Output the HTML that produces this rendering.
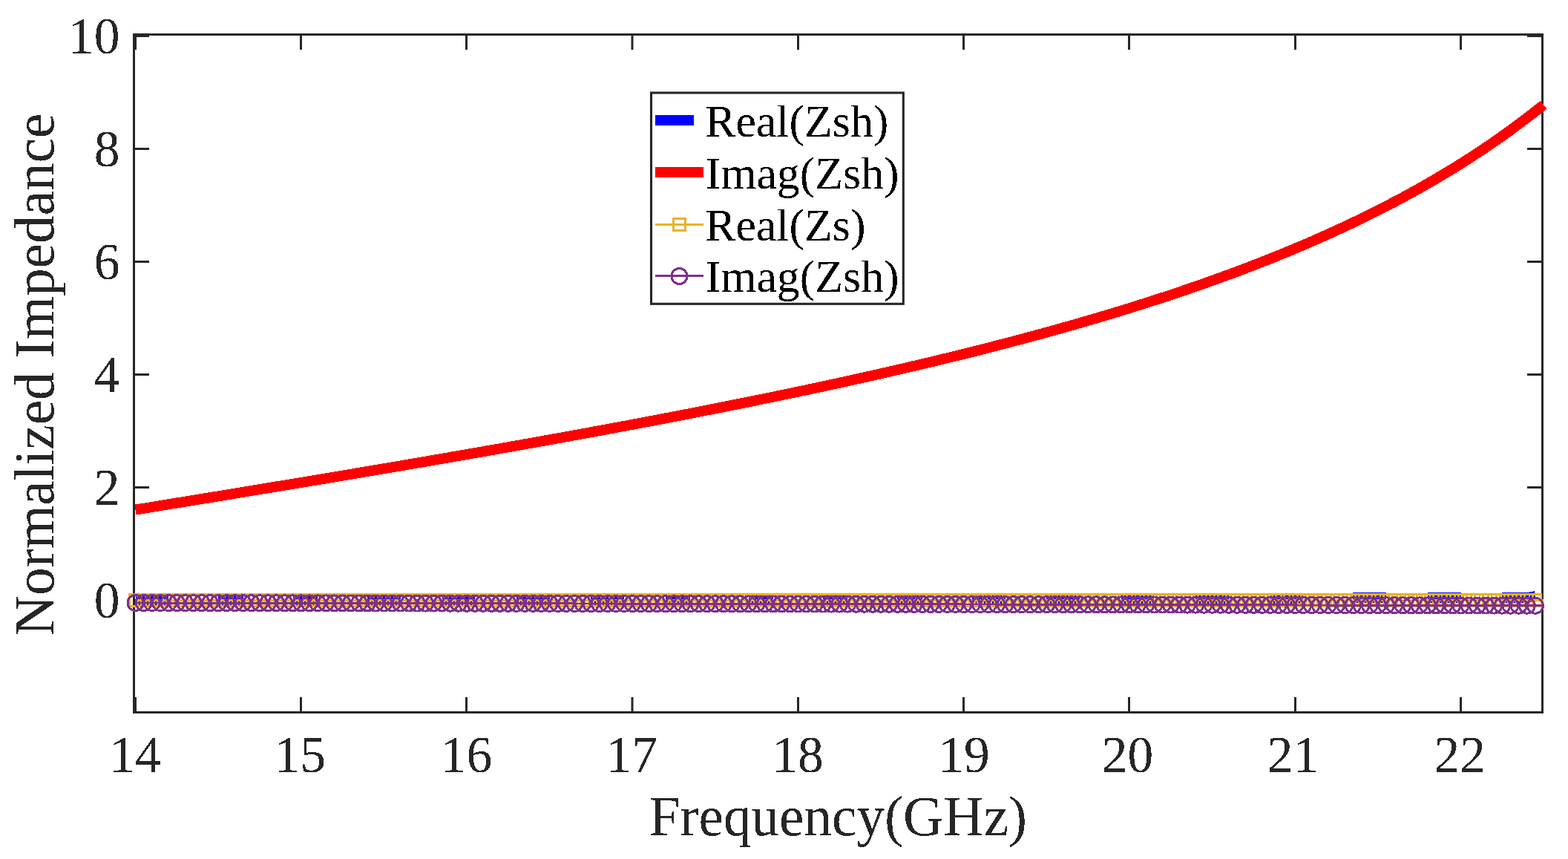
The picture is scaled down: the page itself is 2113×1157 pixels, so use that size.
<!DOCTYPE html>
<html><head><meta charset="utf-8"><style>
html,body{margin:0;padding:0;background:#fff;}
svg{display:block;}
text{font-family:"Liberation Serif","Times New Roman",serif;}
</style></head><body>
<svg width="2113" height="1157" viewBox="0 0 2113 1157">
<rect width="2113" height="1157" fill="#fff"/>
<defs><filter id="bin" x="-5%" y="-5%" width="110%" height="110%"><feComponentTransfer><feFuncA type="discrete" tableValues="0 1"/></feComponentTransfer></filter></defs>
<path d="M180.5 46.5H2078.5V959.5H180.5Z" fill="none" stroke="#262626" stroke-width="3" stroke-linejoin="miter"/>
<path d="M182.50 959.5V939M182.50 46.5V67M405.50 959.5V939M405.50 46.5V67M628.50 959.5V939M628.50 46.5V67M852.00 959.5V939M852.00 46.5V67M1075.50 959.5V939M1075.50 46.5V67M1298.50 959.5V939M1298.50 46.5V67M1521.50 959.5V939M1521.50 46.5V67M1745.50 959.5V939M1745.50 46.5V67M1968.50 959.5V939M1968.50 46.5V67M180.5 808.50H201M2078.5 808.50H2058M180.5 656.50H201M2078.5 656.50H2058M180.5 504.50H201M2078.5 504.50H2058M180.5 352.50H201M2078.5 352.50H2058M180.5 200.50H201M2078.5 200.50H2058M180.5 48.50H201M2078.5 48.50H2058" fill="none" stroke="#262626" stroke-width="3"/>
<g fill="none" stroke-linejoin="round" shape-rendering="crispEdges">
<g stroke="#0000ff" stroke-width="14" stroke-linecap="butt"><polyline points="182.50,808.40 193.66,808.40 204.82,808.40 215.99,808.40 227.15,808.40"/><polyline points="294.12,808.40 305.29,808.40 316.45,808.40 327.61,808.40"/><polyline points="394.59,808.40 405.75,808.40 416.91,808.40 428.07,808.40"/><polyline points="495.05,808.40 506.21,808.40 517.38,808.40 528.54,808.40 539.70,808.40"/><polyline points="595.51,808.40 606.67,808.40 617.84,808.40 629.00,808.40 640.16,808.40"/><polyline points="695.98,808.40 707.14,808.40 718.30,808.40 729.46,808.40 740.62,808.40"/><polyline points="796.44,808.38 807.60,808.37 818.76,808.37 829.92,808.36 841.09,808.35"/><polyline points="896.90,808.31 908.06,808.30 919.23,808.29 930.39,808.28"/><polyline points="1008.52,808.18 1019.69,808.16 1030.85,808.14 1042.01,808.13"/><polyline points="1108.99,808.01 1120.15,807.99 1131.31,807.96 1142.47,807.94"/><polyline points="1209.45,807.79 1220.61,807.76 1231.77,807.74 1242.94,807.71"/><polyline points="1309.91,807.53 1321.08,807.50 1332.24,807.46 1343.40,807.43 1354.56,807.40"/><polyline points="1410.38,807.22 1421.54,807.18 1432.70,807.14 1443.86,807.10 1455.02,807.06"/><polyline points="1510.84,806.86 1522.00,806.82 1533.16,806.77 1544.33,806.73 1555.49,806.68"/><polyline points="1611.30,806.45 1622.46,806.41 1633.62,806.36 1644.79,806.31 1655.95,806.26"/><polyline points="1711.76,806.00 1722.92,805.95 1734.09,805.89 1745.25,805.84 1756.41,805.78"/><polyline points="1823.39,805.44 1834.55,805.38 1845.71,805.32 1856.88,805.30 1868.04,805.30"/><polyline points="1923.85,805.30 1935.01,805.30 1946.17,805.30 1957.34,805.30 1968.50,805.30"/><polyline points="2024.31,805.30 2035.47,805.30 2046.64,805.30 2057.80,805.30 2068.96,803.00"/></g>
<polyline points="182.50,686.56 193.66,684.74 204.82,682.93 215.99,681.11 227.15,679.29 238.31,677.47 249.48,675.65 260.64,673.83 271.80,672.00 282.96,670.18 294.12,668.35 305.29,666.52 316.45,664.68 327.61,662.85 338.77,661.01 349.94,659.17 361.10,657.33 372.26,655.48 383.43,653.64 394.59,651.79 405.75,649.93 416.91,648.08 428.07,646.22 439.24,644.35 450.40,642.49 461.56,640.62 472.73,638.74 483.89,636.86 495.05,634.98 506.21,633.10 517.38,631.21 528.54,629.31 539.70,627.42 550.86,625.51 562.02,623.60 573.19,621.69 584.35,619.77 595.51,617.85 606.68,615.92 617.84,613.99 629.00,612.05 640.16,610.11 651.33,608.16 662.49,606.20 673.65,604.24 684.81,602.27 695.98,600.29 707.14,598.31 718.30,596.32 729.46,594.32 740.62,592.32 751.79,590.30 762.95,588.28 774.11,586.26 785.27,584.22 796.44,582.17 807.60,580.12 818.76,578.06 829.92,575.99 841.09,573.91 852.25,571.82 863.41,569.72 874.58,567.61 885.74,565.49 896.90,563.36 908.06,561.21 919.23,559.06 930.39,556.90 941.55,554.72 952.71,552.53 963.88,550.33 975.04,548.12 986.20,545.89 997.36,543.66 1008.52,541.40 1019.69,539.14 1030.85,536.86 1042.01,534.56 1053.17,532.25 1064.34,529.92 1075.50,527.58 1086.66,525.22 1097.83,522.85 1108.99,520.46 1120.15,518.05 1131.31,515.63 1142.48,513.18 1153.64,510.72 1164.80,508.24 1175.96,505.73 1187.12,503.21 1198.29,500.67 1209.45,498.10 1220.61,495.52 1231.77,492.91 1242.94,490.28 1254.10,487.63 1265.26,484.95 1276.42,482.25 1287.59,479.52 1298.75,476.76 1309.91,473.98 1321.08,471.18 1332.24,468.34 1343.40,465.48 1354.56,462.58 1365.73,459.66 1376.89,456.71 1388.05,453.72 1399.21,450.70 1410.38,447.65 1421.54,444.56 1432.70,441.44 1443.86,438.28 1455.02,435.08 1466.19,431.85 1477.35,428.58 1488.51,425.26 1499.67,421.91 1510.84,418.51 1522.00,415.07 1533.16,411.58 1544.33,408.05 1555.49,404.47 1566.65,400.84 1577.81,397.16 1588.98,393.43 1600.14,389.64 1611.30,385.80 1622.46,381.91 1633.62,377.95 1644.79,373.94 1655.95,369.86 1667.11,365.72 1678.27,361.52 1689.44,357.24 1700.60,352.90 1711.76,348.49 1722.92,344.00 1734.09,339.43 1745.25,334.79 1756.41,330.07 1767.58,325.26 1778.74,320.36 1789.90,315.38 1801.06,310.30 1812.23,305.13 1823.39,299.86 1834.55,294.48 1845.71,289.00 1856.88,283.41 1868.04,277.71 1879.20,271.89 1890.36,265.95 1901.52,259.89 1912.69,253.69 1923.85,247.36 1935.01,240.89 1946.17,234.27 1957.34,227.50 1968.50,220.58 1979.66,213.49 1990.83,206.23 2001.99,198.80 2013.15,191.18 2024.31,183.38 2035.48,175.37 2046.64,167.16 2057.80,158.73 2068.96,150.08 2080.12,141.20" stroke="#ff0000" stroke-width="14" stroke-linecap="butt"/>
<polyline points="182.50,808.40 193.66,808.40 204.82,808.40 215.99,808.40 227.15,808.40 238.31,808.40 249.47,808.40 260.64,808.40 271.80,808.40 282.96,808.40 294.12,808.40 305.29,808.40 316.45,808.40 327.61,808.40 338.77,808.40 349.94,808.40 361.10,808.40 372.26,808.40 383.42,808.40 394.59,808.40 405.75,808.40 416.91,808.40 428.07,808.40 439.24,808.40 450.40,808.40 461.56,808.40 472.72,808.40 483.89,808.40 495.05,808.40 506.21,808.40 517.38,808.40 528.54,808.40 539.70,808.40 550.86,808.40 562.02,808.40 573.19,808.40 584.35,808.40 595.51,808.40 606.67,808.40 617.84,808.40 629.00,808.40 640.16,808.40 651.33,808.40 662.49,808.40 673.65,808.40 684.81,808.40 695.98,808.40 707.14,808.40 718.30,808.40 729.46,808.40 740.62,808.40 751.79,808.40 762.95,808.40 774.11,808.40 785.27,808.40 796.44,808.40 807.60,808.40 818.76,808.40 829.92,808.40 841.09,808.40 852.25,808.40 863.41,808.40 874.57,808.40 885.74,808.40 896.90,808.40 908.06,808.40 919.23,808.40 930.39,808.40 941.55,808.40 952.71,808.40 963.88,808.40 975.04,808.40 986.20,808.40 997.36,808.40 1008.52,808.40 1019.69,808.40 1030.85,808.40 1042.01,808.40 1053.17,808.40 1064.34,808.40 1075.50,808.40 1086.66,808.40 1097.82,808.40 1108.99,808.40 1120.15,808.40 1131.31,808.40 1142.47,808.40 1153.64,808.40 1164.80,808.40 1175.96,808.40 1187.12,808.40 1198.29,808.40 1209.45,808.40 1220.61,808.40 1231.77,808.40 1242.94,808.40 1254.10,808.40 1265.26,808.40 1276.42,808.40 1287.59,808.40 1298.75,808.40 1309.91,808.40 1321.08,808.40 1332.24,808.40 1343.40,808.40 1354.56,808.40 1365.72,808.40 1376.89,808.40 1388.05,808.40 1399.21,808.40 1410.38,808.40 1421.54,808.40 1432.70,808.40 1443.86,808.40 1455.02,808.40 1466.19,808.40 1477.35,808.40 1488.51,808.40 1499.67,808.40 1510.84,808.40 1522.00,808.40 1533.16,808.40 1544.33,808.40 1555.49,808.40 1566.65,808.40 1577.81,808.40 1588.97,808.40 1600.14,808.40 1611.30,808.40 1622.46,808.40 1633.62,808.40 1644.79,808.40 1655.95,808.40 1667.11,808.40 1678.27,808.40 1689.44,808.40 1700.60,808.40 1711.76,808.40 1722.92,808.40 1734.09,808.40 1745.25,808.40 1756.41,808.40 1767.58,808.40 1778.74,808.40 1789.90,808.40 1801.06,808.40 1812.22,808.40 1823.39,808.40 1834.55,808.40 1845.71,808.40 1856.88,808.40 1868.04,808.40 1879.20,808.40 1890.36,808.40 1901.52,808.40 1912.69,808.40 1923.85,808.40 1935.01,808.40 1946.17,808.40 1957.34,808.40 1968.50,808.40 1979.66,808.40 1990.83,808.40 2001.99,808.40 2013.15,808.40 2024.31,808.40 2035.47,808.40 2046.64,808.40 2057.80,808.40 2068.96,808.40 2080.12,808.40" stroke="#EDB120" stroke-width="2.9"/>
<path d="M174.50 800.40h16.0v16.0h-16.0zM185.66 800.40h16.0v16.0h-16.0zM196.82 800.40h16.0v16.0h-16.0zM207.99 800.40h16.0v16.0h-16.0zM219.15 800.40h16.0v16.0h-16.0zM230.31 800.40h16.0v16.0h-16.0zM241.47 800.40h16.0v16.0h-16.0zM252.64 800.40h16.0v16.0h-16.0zM263.80 800.40h16.0v16.0h-16.0zM274.96 800.40h16.0v16.0h-16.0zM286.12 800.40h16.0v16.0h-16.0zM297.29 800.40h16.0v16.0h-16.0zM308.45 800.40h16.0v16.0h-16.0zM319.61 800.40h16.0v16.0h-16.0zM330.77 800.40h16.0v16.0h-16.0zM341.94 800.40h16.0v16.0h-16.0zM353.10 800.40h16.0v16.0h-16.0zM364.26 800.40h16.0v16.0h-16.0zM375.42 800.40h16.0v16.0h-16.0zM386.59 800.40h16.0v16.0h-16.0zM397.75 800.40h16.0v16.0h-16.0zM408.91 800.40h16.0v16.0h-16.0zM420.07 800.40h16.0v16.0h-16.0zM431.24 800.40h16.0v16.0h-16.0zM442.40 800.40h16.0v16.0h-16.0zM453.56 800.40h16.0v16.0h-16.0zM464.72 800.40h16.0v16.0h-16.0zM475.89 800.40h16.0v16.0h-16.0zM487.05 800.40h16.0v16.0h-16.0zM498.21 800.40h16.0v16.0h-16.0zM509.38 800.40h16.0v16.0h-16.0zM520.54 800.40h16.0v16.0h-16.0zM531.70 800.40h16.0v16.0h-16.0zM542.86 800.40h16.0v16.0h-16.0zM554.02 800.40h16.0v16.0h-16.0zM565.19 800.40h16.0v16.0h-16.0zM576.35 800.40h16.0v16.0h-16.0zM587.51 800.40h16.0v16.0h-16.0zM598.67 800.40h16.0v16.0h-16.0zM609.84 800.40h16.0v16.0h-16.0zM621.00 800.40h16.0v16.0h-16.0zM632.16 800.40h16.0v16.0h-16.0zM643.33 800.40h16.0v16.0h-16.0zM654.49 800.40h16.0v16.0h-16.0zM665.65 800.40h16.0v16.0h-16.0zM676.81 800.40h16.0v16.0h-16.0zM687.98 800.40h16.0v16.0h-16.0zM699.14 800.40h16.0v16.0h-16.0zM710.30 800.40h16.0v16.0h-16.0zM721.46 800.40h16.0v16.0h-16.0zM732.62 800.40h16.0v16.0h-16.0zM743.79 800.40h16.0v16.0h-16.0zM754.95 800.40h16.0v16.0h-16.0zM766.11 800.40h16.0v16.0h-16.0zM777.27 800.40h16.0v16.0h-16.0zM788.44 800.40h16.0v16.0h-16.0zM799.60 800.40h16.0v16.0h-16.0zM810.76 800.40h16.0v16.0h-16.0zM821.92 800.40h16.0v16.0h-16.0zM833.09 800.40h16.0v16.0h-16.0zM844.25 800.40h16.0v16.0h-16.0zM855.41 800.40h16.0v16.0h-16.0zM866.57 800.40h16.0v16.0h-16.0zM877.74 800.40h16.0v16.0h-16.0zM888.90 800.40h16.0v16.0h-16.0zM900.06 800.40h16.0v16.0h-16.0zM911.23 800.40h16.0v16.0h-16.0zM922.39 800.40h16.0v16.0h-16.0zM933.55 800.40h16.0v16.0h-16.0zM944.71 800.40h16.0v16.0h-16.0zM955.88 800.40h16.0v16.0h-16.0zM967.04 800.40h16.0v16.0h-16.0zM978.20 800.40h16.0v16.0h-16.0zM989.36 800.40h16.0v16.0h-16.0zM1000.52 800.40h16.0v16.0h-16.0zM1011.69 800.40h16.0v16.0h-16.0zM1022.85 800.40h16.0v16.0h-16.0zM1034.01 800.40h16.0v16.0h-16.0zM1045.17 800.40h16.0v16.0h-16.0zM1056.34 800.40h16.0v16.0h-16.0zM1067.50 800.40h16.0v16.0h-16.0zM1078.66 800.40h16.0v16.0h-16.0zM1089.82 800.40h16.0v16.0h-16.0zM1100.99 800.40h16.0v16.0h-16.0zM1112.15 800.40h16.0v16.0h-16.0zM1123.31 800.40h16.0v16.0h-16.0zM1134.47 800.40h16.0v16.0h-16.0zM1145.64 800.40h16.0v16.0h-16.0zM1156.80 800.40h16.0v16.0h-16.0zM1167.96 800.40h16.0v16.0h-16.0zM1179.12 800.40h16.0v16.0h-16.0zM1190.29 800.40h16.0v16.0h-16.0zM1201.45 800.40h16.0v16.0h-16.0zM1212.61 800.40h16.0v16.0h-16.0zM1223.77 800.40h16.0v16.0h-16.0zM1234.94 800.40h16.0v16.0h-16.0zM1246.10 800.40h16.0v16.0h-16.0zM1257.26 800.40h16.0v16.0h-16.0zM1268.42 800.40h16.0v16.0h-16.0zM1279.59 800.40h16.0v16.0h-16.0zM1290.75 800.40h16.0v16.0h-16.0zM1301.91 800.40h16.0v16.0h-16.0zM1313.08 800.40h16.0v16.0h-16.0zM1324.24 800.40h16.0v16.0h-16.0zM1335.40 800.40h16.0v16.0h-16.0zM1346.56 800.40h16.0v16.0h-16.0zM1357.72 800.40h16.0v16.0h-16.0zM1368.89 800.40h16.0v16.0h-16.0zM1380.05 800.40h16.0v16.0h-16.0zM1391.21 800.40h16.0v16.0h-16.0zM1402.38 800.40h16.0v16.0h-16.0zM1413.54 800.40h16.0v16.0h-16.0zM1424.70 800.40h16.0v16.0h-16.0zM1435.86 800.40h16.0v16.0h-16.0zM1447.02 800.40h16.0v16.0h-16.0zM1458.19 800.40h16.0v16.0h-16.0zM1469.35 800.40h16.0v16.0h-16.0zM1480.51 800.40h16.0v16.0h-16.0zM1491.67 800.40h16.0v16.0h-16.0zM1502.84 800.40h16.0v16.0h-16.0zM1514.00 800.40h16.0v16.0h-16.0zM1525.16 800.40h16.0v16.0h-16.0zM1536.33 800.40h16.0v16.0h-16.0zM1547.49 800.40h16.0v16.0h-16.0zM1558.65 800.40h16.0v16.0h-16.0zM1569.81 800.40h16.0v16.0h-16.0zM1580.97 800.40h16.0v16.0h-16.0zM1592.14 800.40h16.0v16.0h-16.0zM1603.30 800.40h16.0v16.0h-16.0zM1614.46 800.40h16.0v16.0h-16.0zM1625.62 800.40h16.0v16.0h-16.0zM1636.79 800.40h16.0v16.0h-16.0zM1647.95 800.40h16.0v16.0h-16.0zM1659.11 800.40h16.0v16.0h-16.0zM1670.27 800.40h16.0v16.0h-16.0zM1681.44 800.40h16.0v16.0h-16.0zM1692.60 800.40h16.0v16.0h-16.0zM1703.76 800.40h16.0v16.0h-16.0zM1714.92 800.40h16.0v16.0h-16.0zM1726.09 800.40h16.0v16.0h-16.0zM1737.25 800.40h16.0v16.0h-16.0zM1748.41 800.40h16.0v16.0h-16.0zM1759.58 800.40h16.0v16.0h-16.0zM1770.74 800.40h16.0v16.0h-16.0zM1781.90 800.40h16.0v16.0h-16.0zM1793.06 800.40h16.0v16.0h-16.0zM1804.22 800.40h16.0v16.0h-16.0zM1815.39 800.40h16.0v16.0h-16.0zM1826.55 800.40h16.0v16.0h-16.0zM1837.71 800.40h16.0v16.0h-16.0zM1848.88 800.40h16.0v16.0h-16.0zM1860.04 800.40h16.0v16.0h-16.0zM1871.20 800.40h16.0v16.0h-16.0zM1882.36 800.40h16.0v16.0h-16.0zM1893.52 800.40h16.0v16.0h-16.0zM1904.69 800.40h16.0v16.0h-16.0zM1915.85 800.40h16.0v16.0h-16.0zM1927.01 800.40h16.0v16.0h-16.0zM1938.17 800.40h16.0v16.0h-16.0zM1949.34 800.40h16.0v16.0h-16.0zM1960.50 800.40h16.0v16.0h-16.0zM1971.66 800.40h16.0v16.0h-16.0zM1982.83 800.40h16.0v16.0h-16.0zM1993.99 800.40h16.0v16.0h-16.0zM2005.15 800.40h16.0v16.0h-16.0zM2016.31 800.40h16.0v16.0h-16.0zM2027.47 800.40h16.0v16.0h-16.0zM2038.64 800.40h16.0v16.0h-16.0zM2049.80 800.40h16.0v16.0h-16.0zM2060.96 800.40h16.0v16.0h-16.0z" stroke="#EDB120" stroke-width="2.9"/>
<polyline points="182.50,812.00 193.66,812.02 204.82,812.04 215.99,812.05 227.15,812.07 238.31,812.08 249.47,812.10 260.64,812.12 271.80,812.13 282.96,812.15 294.12,812.17 305.29,812.18 316.45,812.20 327.61,812.22 338.77,812.23 349.94,812.25 361.10,812.27 372.26,812.28 383.42,812.30 394.59,812.32 405.75,812.34 416.91,812.35 428.07,812.37 439.24,812.39 450.40,812.40 461.56,812.42 472.72,812.44 483.89,812.46 495.05,812.48 506.21,812.49 517.38,812.51 528.54,812.53 539.70,812.55 550.86,812.57 562.02,812.58 573.19,812.60 584.35,812.62 595.51,812.64 606.67,812.66 617.84,812.68 629.00,812.70 640.16,812.71 651.33,812.73 662.49,812.75 673.65,812.77 684.81,812.79 695.98,812.81 707.14,812.83 718.30,812.85 729.46,812.87 740.62,812.89 751.79,812.91 762.95,812.93 774.11,812.95 785.27,812.97 796.44,812.99 807.60,813.01 818.76,813.03 829.92,813.05 841.09,813.07 852.25,813.09 863.41,813.11 874.57,813.13 885.74,813.15 896.90,813.17 908.06,813.19 919.23,813.21 930.39,813.23 941.55,813.25 952.71,813.27 963.88,813.29 975.04,813.32 986.20,813.34 997.36,813.36 1008.52,813.38 1019.69,813.40 1030.85,813.42 1042.01,813.44 1053.17,813.46 1064.34,813.49 1075.50,813.51 1086.66,813.53 1097.82,813.55 1108.99,813.57 1120.15,813.60 1131.31,813.62 1142.47,813.64 1153.64,813.66 1164.80,813.69 1175.96,813.71 1187.12,813.73 1198.29,813.75 1209.45,813.78 1220.61,813.80 1231.77,813.82 1242.94,813.84 1254.10,813.87 1265.26,813.89 1276.42,813.91 1287.59,813.94 1298.75,813.96 1309.91,813.98 1321.08,814.01 1332.24,814.03 1343.40,814.05 1354.56,814.08 1365.72,814.10 1376.89,814.13 1388.05,814.15 1399.21,814.17 1410.38,814.20 1421.54,814.22 1432.70,814.25 1443.86,814.27 1455.02,814.29 1466.19,814.32 1477.35,814.34 1488.51,814.37 1499.67,814.39 1510.84,814.42 1522.00,814.44 1533.16,814.47 1544.33,814.49 1555.49,814.52 1566.65,814.54 1577.81,814.57 1588.97,814.59 1600.14,814.62 1611.30,814.64 1622.46,814.67 1633.62,814.69 1644.79,814.72 1655.95,814.75 1667.11,814.77 1678.27,814.80 1689.44,814.82 1700.60,814.85 1711.76,814.87 1722.92,814.90 1734.09,814.93 1745.25,814.95 1756.41,814.98 1767.58,815.01 1778.74,815.03 1789.90,815.06 1801.06,815.09 1812.22,815.11 1823.39,815.14 1834.55,815.17 1845.71,815.19 1856.88,815.22 1868.04,815.25 1879.20,815.28 1890.36,815.30 1901.52,815.33 1912.69,815.36 1923.85,815.39 1935.01,815.41 1946.17,815.44 1957.34,815.47 1968.50,815.50 1979.66,815.52 1990.83,815.55 2001.99,815.58 2013.15,815.61 2024.31,815.64 2035.47,815.66 2046.64,815.69 2057.80,815.72 2068.96,815.75 2080.12,815.78" stroke="#7E2F8E" stroke-width="2.9"/>
<path d="M172.00 812.00a10.5 10.5 0 1 0 21.0 0a10.5 10.5 0 1 0 -21.0 0zM183.16 812.02a10.5 10.5 0 1 0 21.0 0a10.5 10.5 0 1 0 -21.0 0zM194.32 812.04a10.5 10.5 0 1 0 21.0 0a10.5 10.5 0 1 0 -21.0 0zM205.49 812.05a10.5 10.5 0 1 0 21.0 0a10.5 10.5 0 1 0 -21.0 0zM216.65 812.07a10.5 10.5 0 1 0 21.0 0a10.5 10.5 0 1 0 -21.0 0zM227.81 812.08a10.5 10.5 0 1 0 21.0 0a10.5 10.5 0 1 0 -21.0 0zM238.97 812.10a10.5 10.5 0 1 0 21.0 0a10.5 10.5 0 1 0 -21.0 0zM250.14 812.12a10.5 10.5 0 1 0 21.0 0a10.5 10.5 0 1 0 -21.0 0zM261.30 812.13a10.5 10.5 0 1 0 21.0 0a10.5 10.5 0 1 0 -21.0 0zM272.46 812.15a10.5 10.5 0 1 0 21.0 0a10.5 10.5 0 1 0 -21.0 0zM283.62 812.17a10.5 10.5 0 1 0 21.0 0a10.5 10.5 0 1 0 -21.0 0zM294.79 812.18a10.5 10.5 0 1 0 21.0 0a10.5 10.5 0 1 0 -21.0 0zM305.95 812.20a10.5 10.5 0 1 0 21.0 0a10.5 10.5 0 1 0 -21.0 0zM317.11 812.22a10.5 10.5 0 1 0 21.0 0a10.5 10.5 0 1 0 -21.0 0zM328.27 812.23a10.5 10.5 0 1 0 21.0 0a10.5 10.5 0 1 0 -21.0 0zM339.44 812.25a10.5 10.5 0 1 0 21.0 0a10.5 10.5 0 1 0 -21.0 0zM350.60 812.27a10.5 10.5 0 1 0 21.0 0a10.5 10.5 0 1 0 -21.0 0zM361.76 812.28a10.5 10.5 0 1 0 21.0 0a10.5 10.5 0 1 0 -21.0 0zM372.92 812.30a10.5 10.5 0 1 0 21.0 0a10.5 10.5 0 1 0 -21.0 0zM384.09 812.32a10.5 10.5 0 1 0 21.0 0a10.5 10.5 0 1 0 -21.0 0zM395.25 812.34a10.5 10.5 0 1 0 21.0 0a10.5 10.5 0 1 0 -21.0 0zM406.41 812.35a10.5 10.5 0 1 0 21.0 0a10.5 10.5 0 1 0 -21.0 0zM417.57 812.37a10.5 10.5 0 1 0 21.0 0a10.5 10.5 0 1 0 -21.0 0zM428.74 812.39a10.5 10.5 0 1 0 21.0 0a10.5 10.5 0 1 0 -21.0 0zM439.90 812.40a10.5 10.5 0 1 0 21.0 0a10.5 10.5 0 1 0 -21.0 0zM451.06 812.42a10.5 10.5 0 1 0 21.0 0a10.5 10.5 0 1 0 -21.0 0zM462.22 812.44a10.5 10.5 0 1 0 21.0 0a10.5 10.5 0 1 0 -21.0 0zM473.39 812.46a10.5 10.5 0 1 0 21.0 0a10.5 10.5 0 1 0 -21.0 0zM484.55 812.48a10.5 10.5 0 1 0 21.0 0a10.5 10.5 0 1 0 -21.0 0zM495.71 812.49a10.5 10.5 0 1 0 21.0 0a10.5 10.5 0 1 0 -21.0 0zM506.88 812.51a10.5 10.5 0 1 0 21.0 0a10.5 10.5 0 1 0 -21.0 0zM518.04 812.53a10.5 10.5 0 1 0 21.0 0a10.5 10.5 0 1 0 -21.0 0zM529.20 812.55a10.5 10.5 0 1 0 21.0 0a10.5 10.5 0 1 0 -21.0 0zM540.36 812.57a10.5 10.5 0 1 0 21.0 0a10.5 10.5 0 1 0 -21.0 0zM551.52 812.58a10.5 10.5 0 1 0 21.0 0a10.5 10.5 0 1 0 -21.0 0zM562.69 812.60a10.5 10.5 0 1 0 21.0 0a10.5 10.5 0 1 0 -21.0 0zM573.85 812.62a10.5 10.5 0 1 0 21.0 0a10.5 10.5 0 1 0 -21.0 0zM585.01 812.64a10.5 10.5 0 1 0 21.0 0a10.5 10.5 0 1 0 -21.0 0zM596.17 812.66a10.5 10.5 0 1 0 21.0 0a10.5 10.5 0 1 0 -21.0 0zM607.34 812.68a10.5 10.5 0 1 0 21.0 0a10.5 10.5 0 1 0 -21.0 0zM618.50 812.70a10.5 10.5 0 1 0 21.0 0a10.5 10.5 0 1 0 -21.0 0zM629.66 812.71a10.5 10.5 0 1 0 21.0 0a10.5 10.5 0 1 0 -21.0 0zM640.83 812.73a10.5 10.5 0 1 0 21.0 0a10.5 10.5 0 1 0 -21.0 0zM651.99 812.75a10.5 10.5 0 1 0 21.0 0a10.5 10.5 0 1 0 -21.0 0zM663.15 812.77a10.5 10.5 0 1 0 21.0 0a10.5 10.5 0 1 0 -21.0 0zM674.31 812.79a10.5 10.5 0 1 0 21.0 0a10.5 10.5 0 1 0 -21.0 0zM685.48 812.81a10.5 10.5 0 1 0 21.0 0a10.5 10.5 0 1 0 -21.0 0zM696.64 812.83a10.5 10.5 0 1 0 21.0 0a10.5 10.5 0 1 0 -21.0 0zM707.80 812.85a10.5 10.5 0 1 0 21.0 0a10.5 10.5 0 1 0 -21.0 0zM718.96 812.87a10.5 10.5 0 1 0 21.0 0a10.5 10.5 0 1 0 -21.0 0zM730.12 812.89a10.5 10.5 0 1 0 21.0 0a10.5 10.5 0 1 0 -21.0 0zM741.29 812.91a10.5 10.5 0 1 0 21.0 0a10.5 10.5 0 1 0 -21.0 0zM752.45 812.93a10.5 10.5 0 1 0 21.0 0a10.5 10.5 0 1 0 -21.0 0zM763.61 812.95a10.5 10.5 0 1 0 21.0 0a10.5 10.5 0 1 0 -21.0 0zM774.77 812.97a10.5 10.5 0 1 0 21.0 0a10.5 10.5 0 1 0 -21.0 0zM785.94 812.99a10.5 10.5 0 1 0 21.0 0a10.5 10.5 0 1 0 -21.0 0zM797.10 813.01a10.5 10.5 0 1 0 21.0 0a10.5 10.5 0 1 0 -21.0 0zM808.26 813.03a10.5 10.5 0 1 0 21.0 0a10.5 10.5 0 1 0 -21.0 0zM819.42 813.05a10.5 10.5 0 1 0 21.0 0a10.5 10.5 0 1 0 -21.0 0zM830.59 813.07a10.5 10.5 0 1 0 21.0 0a10.5 10.5 0 1 0 -21.0 0zM841.75 813.09a10.5 10.5 0 1 0 21.0 0a10.5 10.5 0 1 0 -21.0 0zM852.91 813.11a10.5 10.5 0 1 0 21.0 0a10.5 10.5 0 1 0 -21.0 0zM864.07 813.13a10.5 10.5 0 1 0 21.0 0a10.5 10.5 0 1 0 -21.0 0zM875.24 813.15a10.5 10.5 0 1 0 21.0 0a10.5 10.5 0 1 0 -21.0 0zM886.40 813.17a10.5 10.5 0 1 0 21.0 0a10.5 10.5 0 1 0 -21.0 0zM897.56 813.19a10.5 10.5 0 1 0 21.0 0a10.5 10.5 0 1 0 -21.0 0zM908.73 813.21a10.5 10.5 0 1 0 21.0 0a10.5 10.5 0 1 0 -21.0 0zM919.89 813.23a10.5 10.5 0 1 0 21.0 0a10.5 10.5 0 1 0 -21.0 0zM931.05 813.25a10.5 10.5 0 1 0 21.0 0a10.5 10.5 0 1 0 -21.0 0zM942.21 813.27a10.5 10.5 0 1 0 21.0 0a10.5 10.5 0 1 0 -21.0 0zM953.38 813.29a10.5 10.5 0 1 0 21.0 0a10.5 10.5 0 1 0 -21.0 0zM964.54 813.32a10.5 10.5 0 1 0 21.0 0a10.5 10.5 0 1 0 -21.0 0zM975.70 813.34a10.5 10.5 0 1 0 21.0 0a10.5 10.5 0 1 0 -21.0 0zM986.86 813.36a10.5 10.5 0 1 0 21.0 0a10.5 10.5 0 1 0 -21.0 0zM998.02 813.38a10.5 10.5 0 1 0 21.0 0a10.5 10.5 0 1 0 -21.0 0zM1009.19 813.40a10.5 10.5 0 1 0 21.0 0a10.5 10.5 0 1 0 -21.0 0zM1020.35 813.42a10.5 10.5 0 1 0 21.0 0a10.5 10.5 0 1 0 -21.0 0zM1031.51 813.44a10.5 10.5 0 1 0 21.0 0a10.5 10.5 0 1 0 -21.0 0zM1042.67 813.46a10.5 10.5 0 1 0 21.0 0a10.5 10.5 0 1 0 -21.0 0zM1053.84 813.49a10.5 10.5 0 1 0 21.0 0a10.5 10.5 0 1 0 -21.0 0zM1065.00 813.51a10.5 10.5 0 1 0 21.0 0a10.5 10.5 0 1 0 -21.0 0zM1076.16 813.53a10.5 10.5 0 1 0 21.0 0a10.5 10.5 0 1 0 -21.0 0zM1087.32 813.55a10.5 10.5 0 1 0 21.0 0a10.5 10.5 0 1 0 -21.0 0zM1098.49 813.57a10.5 10.5 0 1 0 21.0 0a10.5 10.5 0 1 0 -21.0 0zM1109.65 813.60a10.5 10.5 0 1 0 21.0 0a10.5 10.5 0 1 0 -21.0 0zM1120.81 813.62a10.5 10.5 0 1 0 21.0 0a10.5 10.5 0 1 0 -21.0 0zM1131.97 813.64a10.5 10.5 0 1 0 21.0 0a10.5 10.5 0 1 0 -21.0 0zM1143.14 813.66a10.5 10.5 0 1 0 21.0 0a10.5 10.5 0 1 0 -21.0 0zM1154.30 813.69a10.5 10.5 0 1 0 21.0 0a10.5 10.5 0 1 0 -21.0 0zM1165.46 813.71a10.5 10.5 0 1 0 21.0 0a10.5 10.5 0 1 0 -21.0 0zM1176.62 813.73a10.5 10.5 0 1 0 21.0 0a10.5 10.5 0 1 0 -21.0 0zM1187.79 813.75a10.5 10.5 0 1 0 21.0 0a10.5 10.5 0 1 0 -21.0 0zM1198.95 813.78a10.5 10.5 0 1 0 21.0 0a10.5 10.5 0 1 0 -21.0 0zM1210.11 813.80a10.5 10.5 0 1 0 21.0 0a10.5 10.5 0 1 0 -21.0 0zM1221.27 813.82a10.5 10.5 0 1 0 21.0 0a10.5 10.5 0 1 0 -21.0 0zM1232.44 813.84a10.5 10.5 0 1 0 21.0 0a10.5 10.5 0 1 0 -21.0 0zM1243.60 813.87a10.5 10.5 0 1 0 21.0 0a10.5 10.5 0 1 0 -21.0 0zM1254.76 813.89a10.5 10.5 0 1 0 21.0 0a10.5 10.5 0 1 0 -21.0 0zM1265.92 813.91a10.5 10.5 0 1 0 21.0 0a10.5 10.5 0 1 0 -21.0 0zM1277.09 813.94a10.5 10.5 0 1 0 21.0 0a10.5 10.5 0 1 0 -21.0 0zM1288.25 813.96a10.5 10.5 0 1 0 21.0 0a10.5 10.5 0 1 0 -21.0 0zM1299.41 813.98a10.5 10.5 0 1 0 21.0 0a10.5 10.5 0 1 0 -21.0 0zM1310.58 814.01a10.5 10.5 0 1 0 21.0 0a10.5 10.5 0 1 0 -21.0 0zM1321.74 814.03a10.5 10.5 0 1 0 21.0 0a10.5 10.5 0 1 0 -21.0 0zM1332.90 814.05a10.5 10.5 0 1 0 21.0 0a10.5 10.5 0 1 0 -21.0 0zM1344.06 814.08a10.5 10.5 0 1 0 21.0 0a10.5 10.5 0 1 0 -21.0 0zM1355.22 814.10a10.5 10.5 0 1 0 21.0 0a10.5 10.5 0 1 0 -21.0 0zM1366.39 814.13a10.5 10.5 0 1 0 21.0 0a10.5 10.5 0 1 0 -21.0 0zM1377.55 814.15a10.5 10.5 0 1 0 21.0 0a10.5 10.5 0 1 0 -21.0 0zM1388.71 814.17a10.5 10.5 0 1 0 21.0 0a10.5 10.5 0 1 0 -21.0 0zM1399.88 814.20a10.5 10.5 0 1 0 21.0 0a10.5 10.5 0 1 0 -21.0 0zM1411.04 814.22a10.5 10.5 0 1 0 21.0 0a10.5 10.5 0 1 0 -21.0 0zM1422.20 814.25a10.5 10.5 0 1 0 21.0 0a10.5 10.5 0 1 0 -21.0 0zM1433.36 814.27a10.5 10.5 0 1 0 21.0 0a10.5 10.5 0 1 0 -21.0 0zM1444.52 814.29a10.5 10.5 0 1 0 21.0 0a10.5 10.5 0 1 0 -21.0 0zM1455.69 814.32a10.5 10.5 0 1 0 21.0 0a10.5 10.5 0 1 0 -21.0 0zM1466.85 814.34a10.5 10.5 0 1 0 21.0 0a10.5 10.5 0 1 0 -21.0 0zM1478.01 814.37a10.5 10.5 0 1 0 21.0 0a10.5 10.5 0 1 0 -21.0 0zM1489.17 814.39a10.5 10.5 0 1 0 21.0 0a10.5 10.5 0 1 0 -21.0 0zM1500.34 814.42a10.5 10.5 0 1 0 21.0 0a10.5 10.5 0 1 0 -21.0 0zM1511.50 814.44a10.5 10.5 0 1 0 21.0 0a10.5 10.5 0 1 0 -21.0 0zM1522.66 814.47a10.5 10.5 0 1 0 21.0 0a10.5 10.5 0 1 0 -21.0 0zM1533.83 814.49a10.5 10.5 0 1 0 21.0 0a10.5 10.5 0 1 0 -21.0 0zM1544.99 814.52a10.5 10.5 0 1 0 21.0 0a10.5 10.5 0 1 0 -21.0 0zM1556.15 814.54a10.5 10.5 0 1 0 21.0 0a10.5 10.5 0 1 0 -21.0 0zM1567.31 814.57a10.5 10.5 0 1 0 21.0 0a10.5 10.5 0 1 0 -21.0 0zM1578.47 814.59a10.5 10.5 0 1 0 21.0 0a10.5 10.5 0 1 0 -21.0 0zM1589.64 814.62a10.5 10.5 0 1 0 21.0 0a10.5 10.5 0 1 0 -21.0 0zM1600.80 814.64a10.5 10.5 0 1 0 21.0 0a10.5 10.5 0 1 0 -21.0 0zM1611.96 814.67a10.5 10.5 0 1 0 21.0 0a10.5 10.5 0 1 0 -21.0 0zM1623.12 814.69a10.5 10.5 0 1 0 21.0 0a10.5 10.5 0 1 0 -21.0 0zM1634.29 814.72a10.5 10.5 0 1 0 21.0 0a10.5 10.5 0 1 0 -21.0 0zM1645.45 814.75a10.5 10.5 0 1 0 21.0 0a10.5 10.5 0 1 0 -21.0 0zM1656.61 814.77a10.5 10.5 0 1 0 21.0 0a10.5 10.5 0 1 0 -21.0 0zM1667.77 814.80a10.5 10.5 0 1 0 21.0 0a10.5 10.5 0 1 0 -21.0 0zM1678.94 814.82a10.5 10.5 0 1 0 21.0 0a10.5 10.5 0 1 0 -21.0 0zM1690.10 814.85a10.5 10.5 0 1 0 21.0 0a10.5 10.5 0 1 0 -21.0 0zM1701.26 814.87a10.5 10.5 0 1 0 21.0 0a10.5 10.5 0 1 0 -21.0 0zM1712.42 814.90a10.5 10.5 0 1 0 21.0 0a10.5 10.5 0 1 0 -21.0 0zM1723.59 814.93a10.5 10.5 0 1 0 21.0 0a10.5 10.5 0 1 0 -21.0 0zM1734.75 814.95a10.5 10.5 0 1 0 21.0 0a10.5 10.5 0 1 0 -21.0 0zM1745.91 814.98a10.5 10.5 0 1 0 21.0 0a10.5 10.5 0 1 0 -21.0 0zM1757.08 815.01a10.5 10.5 0 1 0 21.0 0a10.5 10.5 0 1 0 -21.0 0zM1768.24 815.03a10.5 10.5 0 1 0 21.0 0a10.5 10.5 0 1 0 -21.0 0zM1779.40 815.06a10.5 10.5 0 1 0 21.0 0a10.5 10.5 0 1 0 -21.0 0zM1790.56 815.09a10.5 10.5 0 1 0 21.0 0a10.5 10.5 0 1 0 -21.0 0zM1801.72 815.11a10.5 10.5 0 1 0 21.0 0a10.5 10.5 0 1 0 -21.0 0zM1812.89 815.14a10.5 10.5 0 1 0 21.0 0a10.5 10.5 0 1 0 -21.0 0zM1824.05 815.17a10.5 10.5 0 1 0 21.0 0a10.5 10.5 0 1 0 -21.0 0zM1835.21 815.19a10.5 10.5 0 1 0 21.0 0a10.5 10.5 0 1 0 -21.0 0zM1846.38 815.22a10.5 10.5 0 1 0 21.0 0a10.5 10.5 0 1 0 -21.0 0zM1857.54 815.25a10.5 10.5 0 1 0 21.0 0a10.5 10.5 0 1 0 -21.0 0zM1868.70 815.28a10.5 10.5 0 1 0 21.0 0a10.5 10.5 0 1 0 -21.0 0zM1879.86 815.30a10.5 10.5 0 1 0 21.0 0a10.5 10.5 0 1 0 -21.0 0zM1891.02 815.33a10.5 10.5 0 1 0 21.0 0a10.5 10.5 0 1 0 -21.0 0zM1902.19 815.36a10.5 10.5 0 1 0 21.0 0a10.5 10.5 0 1 0 -21.0 0zM1913.35 815.39a10.5 10.5 0 1 0 21.0 0a10.5 10.5 0 1 0 -21.0 0zM1924.51 815.41a10.5 10.5 0 1 0 21.0 0a10.5 10.5 0 1 0 -21.0 0zM1935.67 815.44a10.5 10.5 0 1 0 21.0 0a10.5 10.5 0 1 0 -21.0 0zM1946.84 815.47a10.5 10.5 0 1 0 21.0 0a10.5 10.5 0 1 0 -21.0 0zM1958.00 815.50a10.5 10.5 0 1 0 21.0 0a10.5 10.5 0 1 0 -21.0 0zM1969.16 815.52a10.5 10.5 0 1 0 21.0 0a10.5 10.5 0 1 0 -21.0 0zM1980.33 815.55a10.5 10.5 0 1 0 21.0 0a10.5 10.5 0 1 0 -21.0 0zM1991.49 815.58a10.5 10.5 0 1 0 21.0 0a10.5 10.5 0 1 0 -21.0 0zM2002.65 815.61a10.5 10.5 0 1 0 21.0 0a10.5 10.5 0 1 0 -21.0 0zM2013.81 815.64a10.5 10.5 0 1 0 21.0 0a10.5 10.5 0 1 0 -21.0 0zM2024.97 815.66a10.5 10.5 0 1 0 21.0 0a10.5 10.5 0 1 0 -21.0 0zM2036.14 815.69a10.5 10.5 0 1 0 21.0 0a10.5 10.5 0 1 0 -21.0 0zM2047.30 815.72a10.5 10.5 0 1 0 21.0 0a10.5 10.5 0 1 0 -21.0 0zM2058.46 815.75a10.5 10.5 0 1 0 21.0 0a10.5 10.5 0 1 0 -21.0 0z" stroke="#7E2F8E" stroke-width="2.9"/>
</g>
<g fill="#262626" font-size="69.5" filter="url(#bin)"><text x="182.00" y="1039.6" text-anchor="middle">14</text><text x="404.15" y="1039.6" text-anchor="middle">15</text><text x="628.40" y="1039.6" text-anchor="middle">16</text><text x="851.15" y="1039.6" text-anchor="middle">17</text><text x="1075.00" y="1039.6" text-anchor="middle">18</text><text x="1299.00" y="1039.6" text-anchor="middle">19</text><text x="1519.50" y="1039.6" text-anchor="middle">20</text><text x="1742.55" y="1039.6" text-anchor="middle">21</text><text x="1967.25" y="1039.6" text-anchor="middle">22</text><text x="161.4" y="831.90" text-anchor="end">0</text><text x="161.4" y="679.90" text-anchor="end">2</text><text x="161.4" y="527.90" text-anchor="end">4</text><text x="161.4" y="375.90" text-anchor="end">6</text><text x="161.4" y="223.90" text-anchor="end">8</text><text x="161.4" y="71.90" text-anchor="end">10</text></g>
<text x="874.7" y="1125" font-size="75.2" fill="#262626" filter="url(#bin)">Frequency(GHz)</text>
<text transform="translate(72,856.2) rotate(-90)" font-size="75.2" fill="#262626" filter="url(#bin)">Normalized Impedance</text>
<!-- legend -->
<rect x="877.5" y="125" width="339.8" height="284.3" fill="#fff" stroke="#262626" stroke-width="3.1"/>
<rect x="883" y="155" width="52" height="14" fill="#0000ff"/>
<rect x="883" y="225" width="65" height="14" fill="#ff0000"/>
<path d="M883 302.5H948" stroke="#EDB120" stroke-width="3" shape-rendering="crispEdges"/>
<rect x="907.5" y="294" width="16" height="16" fill="none" stroke="#EDB120" stroke-width="3" shape-rendering="crispEdges"/>
<path d="M883 371.5H948" stroke="#7E2F8E" stroke-width="3" shape-rendering="crispEdges"/>
<circle cx="915.4" cy="372" r="10.5" fill="none" stroke="#7E2F8E" stroke-width="3" shape-rendering="crispEdges"/>
<g font-size="61.8" fill="#000" filter="url(#bin)">
<text x="950.3" y="183.8">Real(Zsh)</text>
<text x="950.8" y="253.8">Imag(Zsh)</text>
<text x="950.3" y="324.0">Real(Zs)</text>
<text x="950.8" y="393.0">Imag(Zsh)</text>
</g>
</svg>
</body></html>
